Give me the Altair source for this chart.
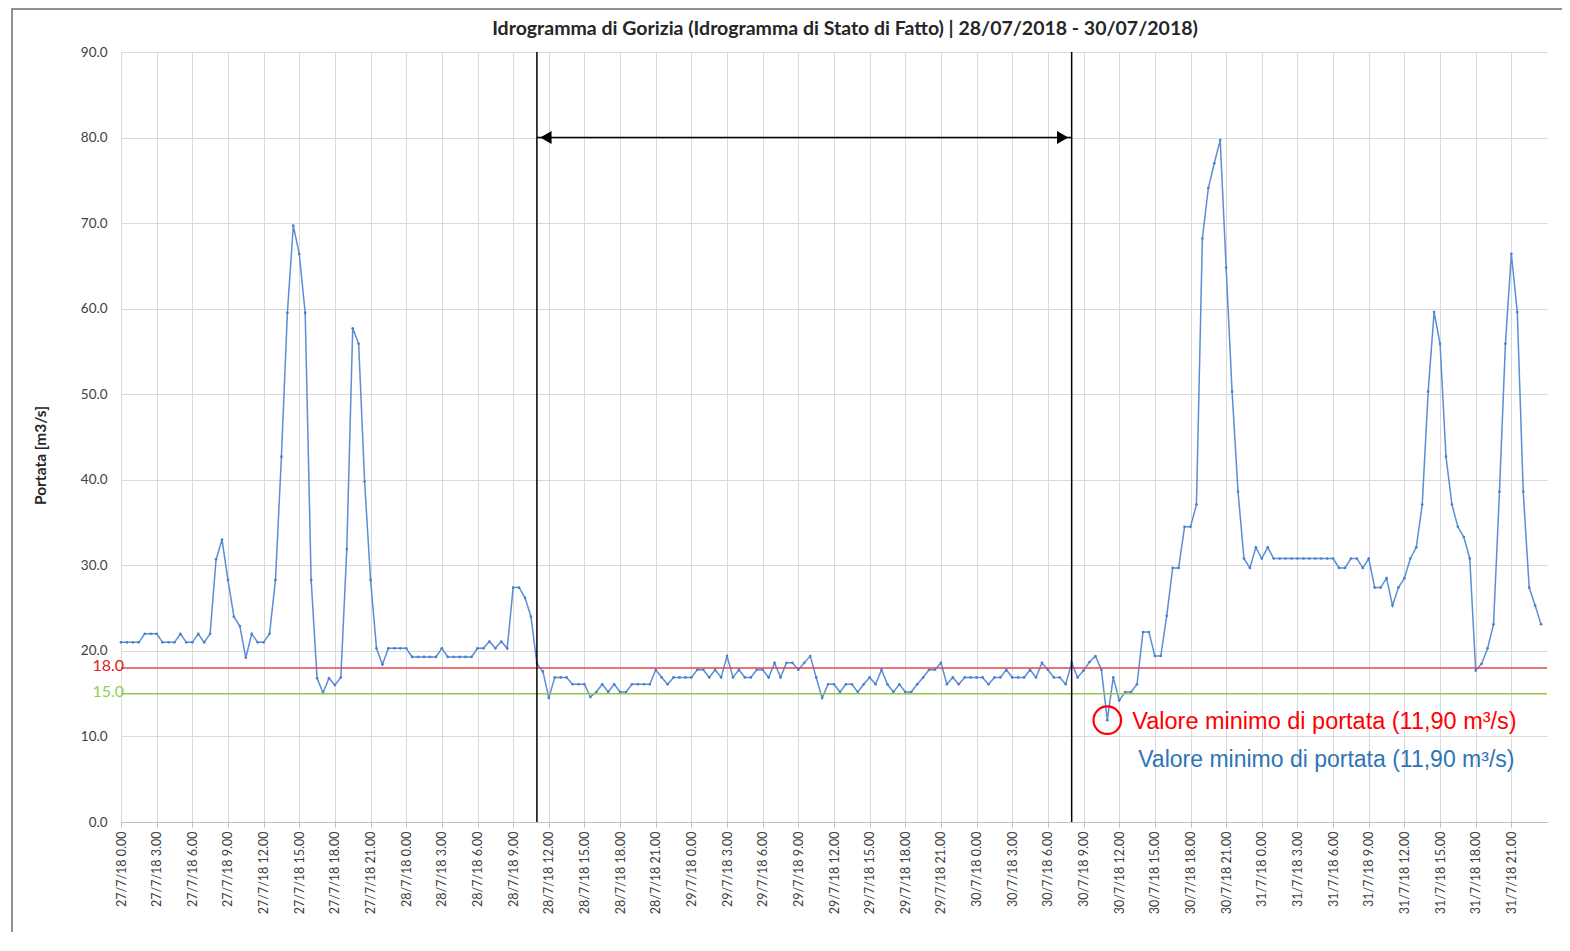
import json
import altair as alt
import pandas as pd

# ---------------- data (half-hourly discharge, m3/s) ----------------
flow = [
    21.0, 21.0, 21.0, 21.0, 22.0, 22.0, 22.0, 21.0, 21.0, 21.0,
    22.0, 21.0, 21.0, 22.0, 21.0, 22.0, 30.7, 33.0, 28.3, 24.0,
    22.9, 19.2, 22.0, 21.0, 21.0, 22.0, 28.3, 42.7, 59.5, 69.7,
    66.4, 59.5, 28.3, 16.8, 15.1, 16.8, 16.0, 16.9, 31.9, 57.7,
    55.9, 39.8, 28.3, 20.3, 18.4, 20.3, 20.3, 20.3, 20.3, 19.3,
    19.3, 19.3, 19.3, 19.3, 20.3, 19.3, 19.3, 19.3, 19.3, 19.3,
    20.3, 20.3, 21.1, 20.3, 21.1, 20.3, 27.4, 27.4, 26.2, 24.0,
    18.5, 17.6, 14.5, 16.9, 16.9, 16.9, 16.1, 16.1, 16.1, 14.6,
    15.2, 16.1, 15.2, 16.1, 15.2, 15.2, 16.1, 16.1, 16.1, 16.1,
    17.8, 16.9, 16.1, 16.9, 16.9, 16.9, 16.9, 17.8, 17.8, 16.9,
    17.8, 16.9, 19.4, 16.9, 17.8, 16.9, 16.9, 17.8, 17.8, 16.9,
    18.6, 16.9, 18.6, 18.6, 17.8, 18.6, 19.4, 16.9, 14.5, 16.1,
    16.1, 15.2, 16.1, 16.1, 15.2, 16.1, 16.9, 16.1, 17.8, 16.1,
    15.2, 16.1, 15.2, 15.2, 16.1, 16.9, 17.8, 17.8, 18.6, 16.1,
    16.9, 16.1, 16.9, 16.9, 16.9, 16.9, 16.1, 16.9, 16.9, 17.8,
    16.9, 16.9, 16.9, 17.8, 16.9, 18.6, 17.8, 16.9, 16.9, 16.1,
    18.6, 16.9, 17.7, 18.7, 19.4, 17.8, 11.9, 16.9, 14.2, 15.2,
    15.2, 16.1, 22.2, 22.2, 19.4, 19.4, 24.1, 29.7, 29.7, 34.5,
    34.5, 37.1, 68.2, 74.1, 77.0, 79.7, 64.8, 50.3, 38.6, 30.8,
    29.7, 32.1, 30.8, 32.1, 30.8, 30.8, 30.8, 30.8, 30.8, 30.8,
    30.8, 30.8, 30.8, 30.8, 30.8, 29.7, 29.7, 30.8, 30.8, 29.7,
    30.8, 27.4, 27.4, 28.5, 25.3, 27.4, 28.5, 30.8, 32.1, 37.1,
    50.3, 59.6, 55.9, 42.7, 37.1, 34.5, 33.3, 30.8, 17.7, 18.5,
    20.3, 23.1, 38.6, 55.9, 66.4, 59.6, 38.6, 27.4, 25.3, 23.1,
]
hours = [i * 0.5 for i in range(len(flow))]  # hours since 27/7/18 0.00

days = ["27/7/18", "28/7/18", "29/7/18", "30/7/18", "31/7/18"]
day_hours = ["0.00", "3.00", "6.00", "9.00", "12.00", "15.00", "18.00", "21.00"]
tick_labels = [f"{d} {h}" for d in days for h in day_hours]
tick_values = [3 * k for k in range(len(tick_labels))]

thresholds = [18.0, 15.0]
threshold_labels = ["18.0", "15.0"]
threshold_colors = ["#e04848", "#92c84a"]
threshold_text_colors = ["#e02020", "#92d050"]

period_bounds = [35, 80]          # 28/7 11.00 and 30/7 8.00
arrow_level = 80.0

min_text = "Valore minimo di portata (11,90 m³/s)"
title_text = "Idrogramma di Gorizia (Idrogramma di Stato di Fatto) | 28/07/2018 - 30/07/2018)"

# ---------------- frames ----------------
df = pd.DataFrame({"h": hours, "q": flow})
thr = pd.DataFrame({"q": thresholds, "lab": threshold_labels,
                    "c": threshold_colors, "tc": threshold_text_colors, "h": [0, 0]})
bounds = pd.DataFrame({"h": period_bounds})
arrow = pd.DataFrame({"h": [period_bounds[0]], "h2": [period_bounds[1]], "q": [arrow_level]})
imin = flow.index(min(flow))
mins = pd.DataFrame({"h": [hours[imin]], "q": [flow[imin]]})
ann = pd.DataFrame({"h": [85.1, 85.6], "q": [11.7, 7.25], "t": [min_text, min_text],
                    "c": ["#ff0000", "#2e75b6"], "fs": [23.5, 23]})

FONT = "Lato"
xscale = alt.Scale(domain=[0, 120], nice=False)
yscale = alt.Scale(domain=[0, 90], nice=False)

label_expr = json.dumps(tick_labels) + "[round(datum.value / 3)]"

x_axis = alt.Axis(values=tick_values, labelExpr=label_expr, labelAngle=270,
                  labelFont=FONT, labelFontSize=12.5, labelColor="#404040",
                  grid=True, gridColor="#d9d9d9", domainColor="#bfbfbf",
                  tickColor="#bfbfbf", tickSize=5, labelPadding=4, title=None,
                  labelOverlap=False)
y_axis = alt.Axis(values=list(range(0, 91, 10)), format=".1f",
                  labelFont=FONT, labelFontSize=13.5, labelColor="#404040",
                  grid=True, gridColor="#d9d9d9", domain=False, ticks=False,
                  labelPadding=14, title="Portata [m3/s]", titleFont=FONT,
                  titleFontSize=15.5, titleFontWeight="bold", titleColor="#262626",
                  titleX=-81, titleY=403, titleAngle=270, titleAlign="center",
                  titleBaseline="middle", labelOverlap=False)


def X(field):
    return alt.X(field, scale=xscale, axis=x_axis)


def Y(field):
    return alt.Y(field, scale=yscale, axis=y_axis)


frame = alt.Chart(pd.DataFrame({"a": [0]})).mark_rect(
    fill="transparent", stroke="#6e6e6e", strokeWidth=1.5
).encode(x=alt.value(-109), x2=alt.value(1600), y=alt.value(-43), y2=alt.value(1000))

title = alt.Chart(pd.DataFrame({"t": [title_text]})).mark_text(
    font=FONT, fontSize=19.5, fontWeight="bold", color="#262626",
    align="center", baseline="middle"
).encode(x=alt.value(724), y=alt.value(-23), text="t:N")

line = alt.Chart(df).mark_line(color="#5b8ed6", strokeWidth=1.5,
                               point=alt.OverlayMarkDef(filled=True, size=7, color="#4a7fc9")).encode(
    x=X("h:Q"), y=Y("q:Q"))

thr_rules = alt.Chart(thr).mark_rule(strokeWidth=1.5).encode(
    y=Y("q:Q"), color=alt.Color("c:N", scale=None))

thr_text = alt.Chart(thr).mark_text(align="right", baseline="middle", dx=3, dy=-2,
                                    font=FONT, fontSize=16).encode(
    x=X("h:Q"), y=Y("q:Q"), text="lab:N", color=alt.Color("tc:N", scale=None))

vlines = alt.Chart(bounds).mark_rule(color="#000000", strokeWidth=1.5).encode(x=X("h:Q"))

arrow_line = alt.Chart(arrow).mark_rule(color="#000000", strokeWidth=1.5).encode(
    x=X("h:Q"), x2="h2:Q", y=Y("q:Q"))
arrow_left = alt.Chart(arrow).mark_point(shape="triangle-left", filled=True, color="#000000",
                                         size=170, opacity=1, xOffset=9).encode(
    x=X("h:Q"), y=Y("q:Q"))
arrow_right = alt.Chart(arrow).mark_point(shape="triangle-right", filled=True, color="#000000",
                                          size=170, opacity=1, xOffset=-9).encode(
    x=X("h2:Q"), y=Y("q:Q"))

min_circle = alt.Chart(mins).mark_point(shape="circle", filled=False, color="#ff0000",
                                        strokeWidth=2.2, size=760, opacity=1).encode(
    x=X("h:Q"), y=Y("q:Q"))

ann_text = alt.Chart(ann).mark_text(align="left", baseline="middle",
                                    font="Liberation Sans").encode(
    x=X("h:Q"), y=Y("q:Q"), text="t:N", color=alt.Color("c:N", scale=None),
    size=alt.Size("fs:Q", scale=None))

chart = alt.layer(
    line, frame, thr_rules, vlines, arrow_line, arrow_left, arrow_right,
    thr_text, min_circle, ann_text, title
).properties(
    width=1426, height=770,
    padding={"left": 113, "top": 44, "right": 15, "bottom": 110},
    autosize=alt.AutoSizeParams(type="none"),
).configure_view(stroke=None)

chart.save("out.html", embed_options={"renderer": "svg", "actions": False})
